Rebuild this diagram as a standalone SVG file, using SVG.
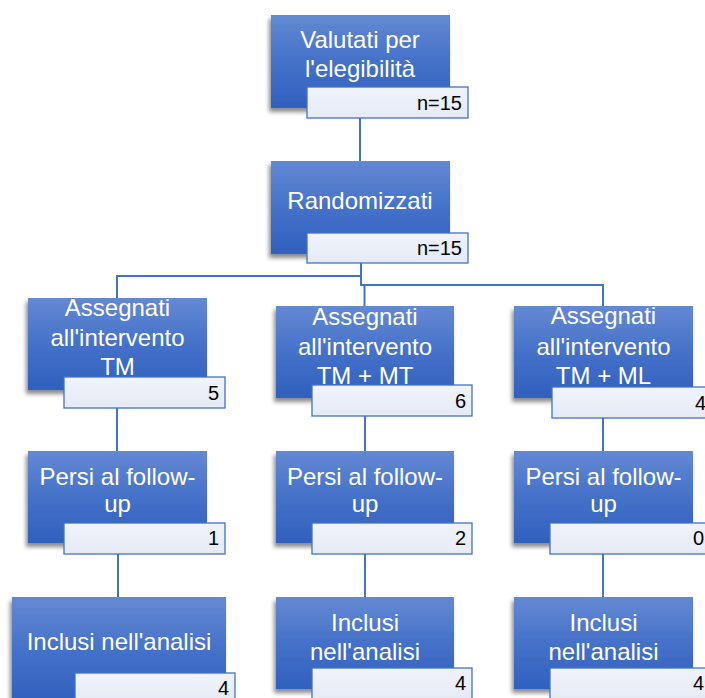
<svg xmlns="http://www.w3.org/2000/svg" width="705" height="698" viewBox="0 0 705 698">
<defs>
<linearGradient id="gBox" x1="0" y1="0" x2="0" y2="1">
<stop offset="0" stop-color="#6489D3"/>
<stop offset="0.5" stop-color="#4571C9"/>
<stop offset="1" stop-color="#3060BE"/>
</linearGradient>
<linearGradient id="gLab" x1="0" y1="0" x2="0" y2="1">
<stop offset="0" stop-color="#F0F3FA"/>
<stop offset="1" stop-color="#E5EAF5"/>
</linearGradient>
<filter id="sh" x="-10%" y="-10%" width="125%" height="130%">
<feDropShadow dx="-2" dy="4" stdDeviation="2.2" flood-color="#000" flood-opacity="0.45"/>
</filter>
</defs>
<style>
.box{fill:url(#gBox);filter:url(#sh)}
.lab{fill:url(#gLab);stroke:#4472C4;stroke-width:1.3}
.t{font-family:"Liberation Sans",Arial,sans-serif;font-size:24px;fill:#FFFFFF;text-anchor:middle}
.n{font-family:"Liberation Sans",Arial,sans-serif;font-size:20px;fill:#000000;text-anchor:end}
.c{fill:none;stroke:#4472C4;stroke-width:2}
</style>
<rect width="705" height="698" fill="#FFFFFF"/>
<g id="connectors">
<path class="c" d="M360,118 V161"/>
<path class="c" d="M361,263 V276 H117 V298"/>
<path class="c" d="M361,263 V285 H603 V306"/>
<path class="c" d="M364.5,285 V306"/>
<path class="c" d="M117,408 V451"/>
<path class="c" d="M118,554 V597"/>
<path class="c" d="M365,416 V451"/>
<path class="c" d="M365,554 V597"/>
<path class="c" d="M603,418 V451"/>
<path class="c" d="M603,554 V597"/>
</g>
<g id="valutati">
<rect class="box" x="271" y="15" width="179" height="93"/>
<text class="t" x="360" y="48">Valutati per</text>
<text class="t" x="360" y="77">l'elegibilità</text>
<rect class="lab" x="307" y="87" width="161" height="31"/>
<text class="n" x="462" y="110">n=15</text>
</g>
<g id="randomizzati">
<rect class="box" x="271" y="161" width="179" height="93"/>
<text class="t" x="360" y="209">Randomizzati</text>
<rect class="lab" x="307" y="233" width="161" height="30"/>
<text class="n" x="462" y="255">n=15</text>
</g>
<g id="assegnati-tm">
<rect class="box" x="28" y="298" width="179" height="92"/>
<text class="t" x="117.5" y="316">Assegnati</text>
<text class="t" x="117.5" y="346">all'intervento</text>
<text class="t" x="117.5" y="375">TM</text>
<rect class="lab" x="64" y="377" width="161" height="31"/>
<text class="n" x="219" y="400">5</text>
</g>
<g id="assegnati-tm-mt">
<rect class="box" x="276" y="306" width="178" height="92"/>
<text class="t" x="365" y="325">Assegnati</text>
<text class="t" x="365" y="355">all'intervento</text>
<text class="t" x="365" y="384">TM + MT</text>
<rect class="lab" x="312" y="385" width="160" height="31"/>
<text class="n" x="466" y="408">6</text>
</g>
<g id="assegnati-tm-ml">
<rect class="box" x="514" y="306" width="179" height="92"/>
<text class="t" x="603.5" y="324">Assegnati</text>
<text class="t" x="603.5" y="355">all'intervento</text>
<text class="t" x="603.5" y="384">TM + ML</text>
<rect class="lab" x="552" y="387" width="161" height="31"/>
<text class="n" x="706" y="410">4</text>
</g>
<g id="persi-tm">
<rect class="box" x="28" y="451" width="179" height="92"/>
<text class="t" x="117.5" y="485">Persi al follow-</text>
<text class="t" x="117.5" y="512">up</text>
<rect class="lab" x="64" y="523" width="161" height="31"/>
<text class="n" x="219" y="545">1</text>
</g>
<g id="persi-tm-mt">
<rect class="box" x="276" y="451" width="178" height="92"/>
<text class="t" x="365" y="485">Persi al follow-</text>
<text class="t" x="365" y="512">up</text>
<rect class="lab" x="312" y="523" width="160" height="31"/>
<text class="n" x="466" y="545">2</text>
</g>
<g id="persi-tm-ml">
<rect class="box" x="514" y="451" width="179" height="92"/>
<text class="t" x="603.5" y="485">Persi al follow-</text>
<text class="t" x="603.5" y="512">up</text>
<rect class="lab" x="550" y="523" width="161" height="31"/>
<text class="n" x="704" y="545">0</text>
</g>
<g id="inclusi-tm">
<rect class="box" x="12" y="597" width="214" height="106"/>
<text class="t" x="119" y="650">Inclusi nell'analisi</text>
<rect class="lab" x="75" y="673" width="160" height="31"/>
<text class="n" x="229" y="695">4</text>
</g>
<g id="inclusi-tm-mt">
<rect class="box" x="276" y="597" width="178" height="92"/>
<text class="t" x="365" y="631">Inclusi</text>
<text class="t" x="365" y="660">nell'analisi</text>
<rect class="lab" x="312" y="668" width="160" height="31"/>
<text class="n" x="466" y="690">4</text>
</g>
<g id="inclusi-tm-ml">
<rect class="box" x="514" y="597" width="179" height="92"/>
<text class="t" x="603.5" y="631">Inclusi</text>
<text class="t" x="603.5" y="660">nell'analisi</text>
<rect class="lab" x="550" y="668" width="161" height="31"/>
<text class="n" x="704" y="690">4</text>
</g>
</svg>
